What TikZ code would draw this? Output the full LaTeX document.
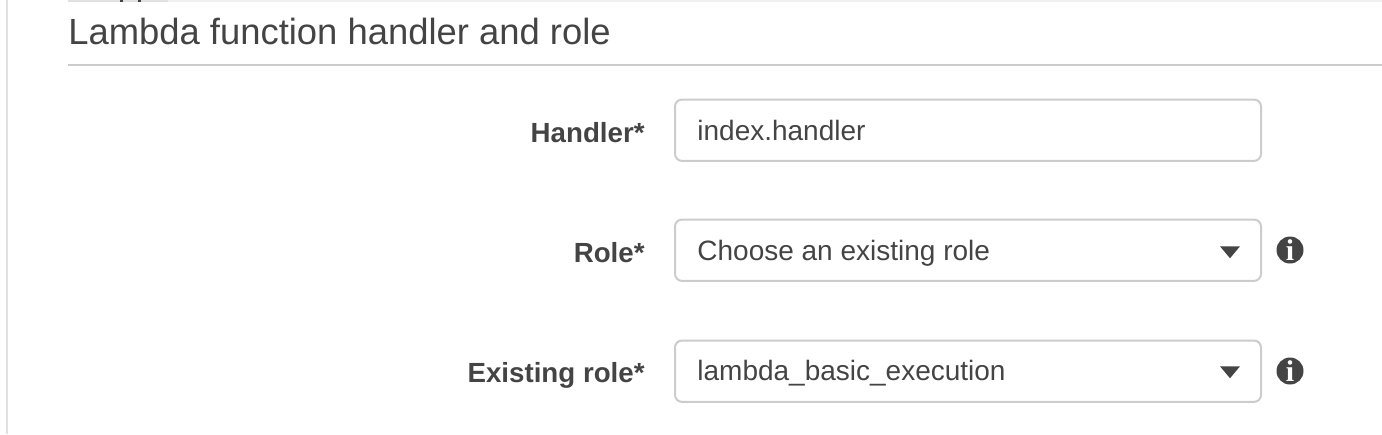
\documentclass[tikz,border=0pt]{standalone}
\usepackage{fontspec}
\setmainfont{Liberation Sans}
\newfontfamily\iconfont{Liberation Serif}
\usetikzlibrary{positioning, shapes.geometric}
\definecolor{textgray}{HTML}{444444}
\definecolor{boxgray}{HTML}{CCCCCC}
\definecolor{edgegray}{HTML}{E1E1E1}
\tikzset{
  fieldbox/.style={draw=boxgray, line width=1pt, rounded corners=3.5pt, minimum width=293pt, minimum height=30.7pt, inner sep=0pt, anchor=north west},
  fieldtext/.style={text=textgray, font=\fontsize{14}{16}\selectfont, inner sep=0pt, anchor=base west},
  fieldlabel/.style={text=textgray, font=\fontsize{13.85}{16}\selectfont\bfseries, inner sep=0pt, anchor=base east},
  dropmark/.style={fill=textgray, isosceles triangle, isosceles triangle apex angle=80, shape border rotate=-90, inner sep=0pt, minimum width=10pt, minimum height=5pt},
  infomark/.style={circle, fill=textgray, text=white, minimum size=13.5pt, inner sep=0pt, font=\fontsize{15}{15}\selectfont\iconfont\bfseries}
}
\begin{document}
\begin{tikzpicture}[x=0.5pt,y=-0.5pt]
  \useasboundingbox (0,0) rectangle (1382,434);
  \fill[edgegray!50] (168,0) rectangle (1382,2);
  \fill[edgegray] (68,0) rectangle (168,2);
  \fill[textgray] (120,0) rectangle (123,2);
  \fill[textgray] (138,0) rectangle (141,2);
  \draw[edgegray, line width=1.25pt] (7,0) -- (7,434);
  % heading
  \node[text=textgray, font=\fontsize{18.2}{20}\selectfont, inner sep=0pt, anchor=base west] (heading) at (68,44) {Lambda function handler and role};
  \coordinate (ruleleft) at (68,65);
  \coordinate (ruleright) at (1382,65);
  \draw[boxgray, line width=1pt] (ruleleft) -- (ruleright);
  % fields
  \node[fieldbox] (handlerbox) at (674,98.5) {};
  \node[fieldbox] (rolebox) at (674,218.5) {};
  \node[fieldbox] (existingbox) at (674,339.5) {};
  \node[fieldlabel] (handlerlabel) at (645,142) {Handler*};
  \node[fieldlabel] (rolelabel) at (645,262) {Role*};
  \node[fieldlabel] (existinglabel) at (645,382) {Existing role*};
  \node[fieldtext] (handlertext) at (697,140) {index.handler};
  \node[fieldtext] (roletext) at (697,260) {Choose an existing role};
  \node[fieldtext] (existingtext) at (697,380) {lambda\_basic\_execution};
  \node[dropmark] (rolearrow) at (1230,251) {};
  \node[dropmark] (existingarrow) at (1230,371) {};
  \node[infomark] (roleinfo) at (1290,250) {i};
  \node[infomark] (existinginfo) at (1290,371) {i};
\end{tikzpicture}
\end{document}
